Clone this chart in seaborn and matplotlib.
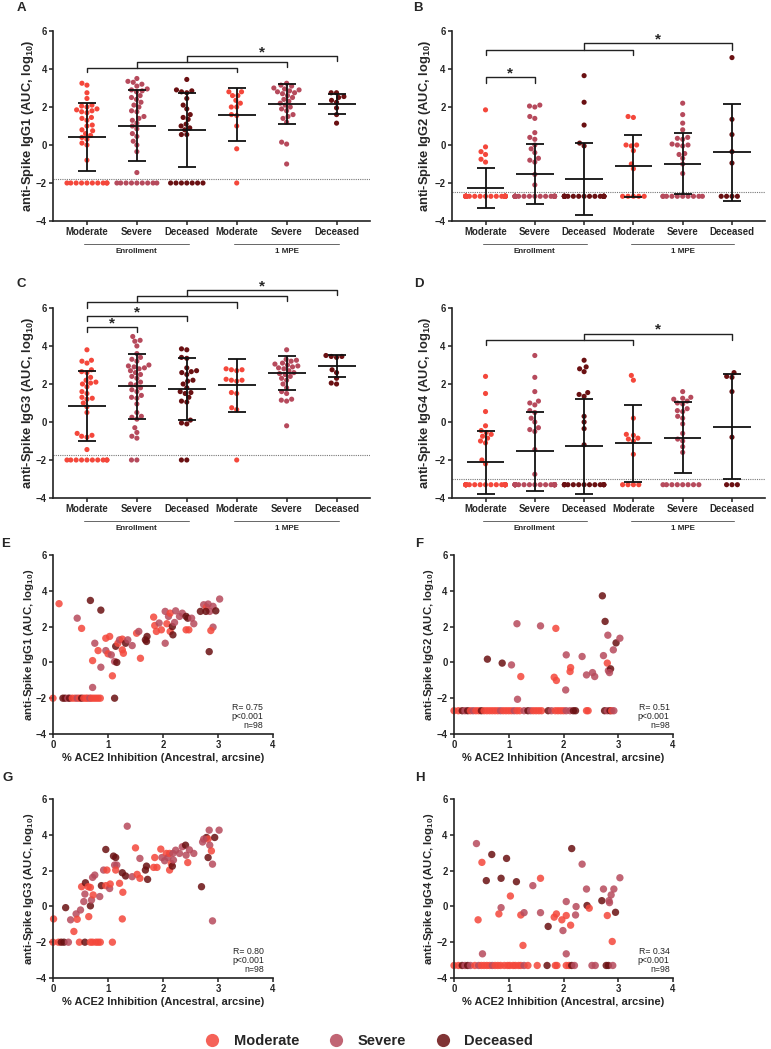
import numpy as np
import pandas as pd
import seaborn as sns
import matplotlib.pyplot as plt
from matplotlib.lines import Line2D

sns.set_style("ticks")
plt.rcParams['font.family'] = ['Liberation Sans', 'DejaVu Sans']
plt.rcParams['font.weight'] = 'bold'
plt.rcParams['axes.labelweight'] = 'bold'
plt.rcParams['mathtext.fontset'] = 'custom'
plt.rcParams['mathtext.rm'] = 'Liberation Sans:bold'
plt.rcParams['mathtext.bf'] = 'Liberation Sans:bold'
plt.rcParams['mathtext.default'] = 'rm'

colors = {'Moderate': '#F4473B', 'Severe': '#B64A5C', 'Deceased': '#6A1012'}
code = {'M': 'Moderate', 'S': 'Severe', 'D': 'Deceased'}
groups = ['Moderate E', 'Severe E', 'Deceased E', 'Moderate M', 'Severe M', 'Deceased M']
tick_names = ['Moderate', 'Severe', 'Deceased', 'Moderate', 'Severe', 'Deceased']

# ---- column scatter data (enrollment x3, 1 MPE x3) ----
igg1 = [
    [3.25, 3.15, 2.75, 2.45, 2.1, 2.05, 2.0, 1.9, 1.85, 1.8, 1.75, 1.7, 1.45, 1.4, 1.3, 1.05, 1.0,
     0.8, 0.75, 0.6, 0.5, 0.4, 0.3, 0.1, 0.0, -0.8] + [-2.0] * 10,
    [3.5, 3.35, 3.3, 3.2, 3.1, 2.95, 2.9, 2.85, 2.8, 2.6, 2.5, 2.4, 2.25, 2.1, 2.0, 1.8, 1.75, 1.5,
     1.4, 1.3, 1.15, 1.0, 0.85, 0.6, 0.45, 0.2, 0.0, -0.35, -1.45] + [-2.0] * 9,
    [3.45, 2.9, 2.85, 2.8, 2.75, 2.45, 2.1, 1.9, 1.6, 1.45, 1.35, 1.1, 1.0, 0.9, 0.8, 0.55, 0.55] + [-2.0] * 7,
    [2.8, 2.8, 2.6, 2.6, 2.35, 2.2, 2.0, 2.0, 1.6, 1.55, 1.0, -0.2, -2.0],
    [3.25, 3.15, 3.1, 3.0, 2.95, 2.9, 2.85, 2.8, 2.75, 2.7, 2.6, 2.5, 2.4, 2.3, 2.2, 2.1, 2.0, 1.9,
     1.8, 1.6, 1.5, 1.4, 1.2, 0.15, 0.05, -1.0],
    [2.75, 2.75, 2.55, 2.5, 2.35, 2.25, 1.95, 1.6, 1.15],
]
igg1_mean = [0.42, 1.02, 0.80, 1.60, 2.15, 2.17]
igg1_sd = [1.80, 1.88, 1.95, 1.38, 1.05, 0.52]
igg1_lod = -1.78

igg2 = [
    [1.85, -0.1, -0.35, -0.5, -0.75, -0.9] + [-2.7] * 30,
    [2.1, 2.05, 2.0, 1.5, 1.4, 0.65, 0.4, 0.3, 0.0, -0.2, -0.4, -0.7, -0.8, -0.9, -1.55, -2.1] + [-2.7] * 22,
    [3.65, 2.25, 1.05, 0.1, -0.05] + [-2.7] * 19,
    [1.5, 1.45, 0.0, 0.0, -0.05, -0.3, -1.0, -1.25] + [-2.7] * 5,
    [2.2, 1.6, 1.15, 0.8, 0.4, 0.35, 0.3, 0.05, 0.0, 0.0, -0.05, -0.45, -0.5, -0.7, -1.0, -1.5] + [-2.7] * 10,
    [4.6, 1.35, 0.55, -0.35, -0.95] + [-2.7] * 4,
]
igg2_mean = [-2.25, -1.52, -1.78, -1.12, -0.98, -0.38]
igg2_sd = [1.05, 1.57, 1.90, 1.63, 1.60, 2.55]
igg2_lod = -2.45

igg3 = [
    [3.8, 3.25, 3.2, 3.1, 2.75, 2.65, 2.6, 2.35, 2.2, 2.1, 2.05, 2.0, 1.85, 1.6, 1.5, 1.3, 1.25, 1.2,
     1.0, 0.8, 0.5, -0.6, -0.7, -0.75, -0.8, -1.45] + [-2.0] * 10,
    [4.5, 4.3, 4.25, 4.0, 3.6, 3.4, 3.3, 3.2, 3.0, 2.95, 2.9, 2.85, 2.8, 2.7, 2.6, 2.5, 2.4, 2.3, 2.1,
     2.0, 1.95, 1.8, 1.7, 1.6, 1.4, 1.3, 1.25, 0.95, 0.5, 0.3, 0.25, 0.15, -0.3, -0.55, -0.75, -0.85] + [-2.0] * 2,
    [3.85, 3.8, 3.4, 3.35, 2.85, 2.7, 2.65, 2.6, 2.5, 2.2, 2.15, 2.0, 1.8, 1.6, 1.55, 1.5, 1.3, 1.1,
     1.05, 0.1, -0.05, -0.1] + [-2.0] * 2,
    [2.8, 2.75, 2.75, 2.7, 2.25, 2.2, 2.2, 2.15, 1.55, 1.5, 0.75, 0.65, -2.0],
    [3.8, 3.3, 3.25, 3.2, 3.1, 3.05, 3.0, 2.95, 2.9, 2.85, 2.8, 2.7, 2.6, 2.55, 2.5, 2.4, 2.3, 2.2,
     2.0, 1.8, 1.6, 1.5, 1.2, 1.15, 1.1, -0.2],
    [3.45, 3.45, 3.4, 3.5, 2.75, 2.6, 2.3, 2.05, 2.0],
]
igg3_mean = [0.85, 1.88, 1.75, 1.93, 2.58, 2.95]
igg3_sd = [1.86, 1.72, 1.63, 1.38, 0.90, 0.58]
igg3_lod = -1.73

igg4 = [
    [2.4, 1.5, 0.55, -0.2, -0.45, -0.55, -0.65, -0.75, -0.85, -1.0, -1.1, -2.0, -2.2] + [-3.3] * 23,
    [3.5, 2.35, 1.6, 1.1, 1.0, 0.9, 0.6, 0.5, 0.2, 0.0, -0.3, -0.4, -0.5, -1.45, -2.75] + [-3.3] * 23,
    [3.25, 2.9, 2.8, 2.65, 1.55, 1.45, 1.35, 0.3, 0.0, -0.35, -1.2] + [-3.3] * 13,
    [2.45, 2.2, 0.2, -0.65, -0.7, -0.85, -0.9, -1.0, -1.7] + [-3.3] * 4,
    [1.6, 1.3, 1.25, 1.2, 1.1, 1.0, 0.95, 0.7, 0.6, 0.55, 0.3, 0.2, -0.1, -0.6, -0.9, -1.0, -1.3,
     -1.6] + [-3.3] * 8,
    [2.6, 2.4, 2.35, 1.6, -0.8] + [-3.3] * 3,
]
igg4_mean = [-2.13, -1.54, -1.27, -1.11, -0.82, -0.24]
igg4_sd = [1.64, 2.07, 2.50, 2.03, 1.86, 2.78]
igg4_lod = -3.0

# brackets: (from, to, height, left foot, right foot, star)
brackets_a = [(0, 3, 4.07, 3.82, 3.82, False), (1, 4, 4.38, 4.07, 4.12, False),
              (2, 5, 4.68, 4.38, 4.42, True)]
brackets_b = [(0, 3, 5.0, 4.72, 4.72, False), (2, 5, 5.35, 5.0, 5.0, True),
              (0, 1, 3.56, 3.28, 3.28, True)]
brackets_c = [(0, 1, 5.0, 4.74, 4.74, True), (0, 2, 5.58, 5.32, 5.32, True),
              (0, 3, 6.31, 6.02, 6.02, False), (1, 4, 6.61, 6.31, 6.35, False),
              (2, 5, 6.93, 6.61, 6.67, True)]
brackets_d = [(0, 3, 4.34, 4.05, 4.05, False), (2, 5, 4.64, 4.34, 4.30, True)]

# ---- correlation data (ACE2 inhibition vs IgG) ----
e_ace2 = [0.11, 0.44, 0.52, 0.68, 0.87, 0.76, 0.82, 0.72, 0.87, 0.72,
          0.96, 1.03, 0.96, 1.00, 1.06, 1.08, 1.12, 1.16, 1.14, 1.18,
          1.12, 1.21, 1.26, 1.26, 1.28, 1.32, 1.36, 1.44, 1.52, 1.56,
          1.59, 1.68, 1.71, 1.70, 1.83, 1.85, 1.88, 1.93, 1.97, 2.04,
          2.04, 2.07, 2.10, 2.13, 2.13, 2.17, 2.18, 2.21, 2.23, 2.30,
          2.35, 2.42, 2.45, 2.42, 2.47, 2.52, 2.56, 2.68, 2.74, 2.79,
          2.82, 2.85, 2.78, 2.91, 2.96, 3.03, 2.91, 2.87, 2.84,
          0.0, 0.18, 0.22, 0.27, 0.30, 0.35, 0.40, 0.44, 0.48, 0.52,
          0.56, 0.60, 0.63, 0.67, 0.70, 0.74, 0.78, 0.82, 0.86]
e_igg1 = [3.28, 2.47, 1.90, 3.46, 2.92, 1.07, 0.66, 0.10, -0.27, -1.40,
          1.35, 1.45, 0.66, 0.48, 0.42, -0.75, 0.05, 0.00, 0.90, 1.07,
          -2.00, 1.26, 1.30, 0.70, 0.51, 1.07, 1.26, 0.94, 1.63, 1.73,
          0.23, 1.26, 1.45, 1.17, 2.53, 2.06, 1.73, 2.20, 1.82, 1.07,
          2.85, 2.16, 2.57, 2.75, 1.73, 2.00, 1.54, 2.23, 2.88, 2.57,
          2.75, 2.57, 2.47, 1.82, 1.82, 2.47, 2.16, 2.85, 3.22, 3.09,
          3.26, 2.85, 2.85, 3.13, 2.88, 3.54, 1.97, 1.78, 0.60] + [-2.0] * 19
e_sev = "MSMDDSMMSSMMSMSMSDDMDSMMMDSSMSMDDDMMMSMSSMSMMDDSSSSDDMMSSDSMSSDSDSSMD" + "MDDSDMMSMDMMMSMMMMM"

f_ace2 = [0.61, 0.88, 1.05, 1.22, 1.15, 1.16, 1.58, 1.86, 1.83, 1.87,
          2.05, 2.04, 2.13, 2.12, 2.34, 2.42, 2.53, 2.57, 2.71, 2.76,
          2.81, 2.73, 2.80, 2.82, 2.86, 2.84, 2.91, 2.96, 3.03,
          0.0, 0.08, 0.15, 0.2, 0.25, 0.3, 0.35, 0.4, 0.45, 0.5,
          0.55, 0.6, 0.65, 0.7, 0.75, 0.8, 0.85, 0.9, 0.95, 1.0,
          1.05, 1.1, 1.15, 1.2, 1.28, 1.35, 1.4, 1.45, 1.5, 1.55,
          1.6, 1.72, 1.78, 1.85, 1.9, 1.95, 2.0, 2.05, 2.12, 2.18,
          2.22, 2.42, 2.45, 2.75, 2.8, 2.85, 2.88, 2.92]
f_igg2 = [0.18, -0.04, -0.14, -0.79, 2.16, -2.06, 2.04, 1.90, -0.83, -1.01,
          0.42, -1.54, -0.29, -0.51, 0.33, -0.70, -0.57, -0.79, 3.72, 2.29,
          1.52, 0.38, -0.04, -0.46, -0.36, -0.57, 0.70, 1.09, 1.35] + [-2.7] * 48
f_sev = "DDSMSSSMMMSSMMSSSSDDSSMSDSSDS" + "MMDSDMSMMDMMMMMMSMMMMSMMSDSMMMMDSMMMMSSDDMMDSDMS"

g_ace2 = [0.01, 0.23, 0.32, 0.38, 0.42, 0.44, 0.50, 0.52, 0.56, 0.58,
          0.59, 0.64, 0.65, 0.68, 0.68, 0.70, 0.72, 0.73, 0.76, 0.85,
          0.88, 0.92, 0.96, 0.98, 0.96, 1.03, 1.04, 1.10, 1.14, 1.12,
          1.16, 1.14, 1.21, 1.26, 1.27, 1.26, 1.32, 1.35, 1.44, 1.50,
          1.53, 1.58, 1.58, 1.70, 1.68, 1.72, 1.83, 1.85, 1.89, 1.96,
          1.98, 2.03, 2.06, 2.09, 2.12, 2.12, 2.15, 2.17, 2.19, 2.18,
          2.23, 2.30, 2.35, 2.41, 2.42, 2.45, 2.48, 2.56, 2.70, 2.72,
          2.79, 2.82, 2.84, 2.85, 2.82, 2.88, 2.90, 2.90, 2.94, 3.02, 2.74,
          0.0, 0.1, 0.15, 0.2, 0.28, 0.48, 0.58, 0.68, 0.72, 0.78, 0.82, 0.86, 1.08]
g_igg3 = [-0.70, -0.07, -0.75, -1.40, -0.42, -0.72, -0.20, 1.10, 0.27, 0.69,
          1.32, 1.10, -0.57, 1.06, 0.03, 0.36, 1.62, 0.64, 1.75, 0.55,
          1.16, 2.03, 3.18, 2.03, 1.16, 1.00, 1.25, 2.81, 2.73, 2.31,
          2.31, 2.03, 1.29, 1.88, 0.79, -0.70, 1.70, 4.48, 1.66, 3.27,
          1.79, 1.57, 2.68, 2.25, 2.03, 1.51, 2.18, 2.73, 2.18, 3.20,
          2.73, 2.55, 2.96, 2.73, 2.96, 2.03, 2.40, 2.25, 2.59, 2.96,
          3.14, 2.96, 3.33, 3.42, 2.86, 2.45, 3.16, 2.96, 1.10, 3.60,
          3.85, 3.76, 4.26, 3.42, 2.73, 3.10, 2.36, -0.81, 3.85, 4.26, 3.76] + [-2.0] * 13
g_sev = ("MDSMSMSMSSDMMMDSSMSSDSDMMSMDDSSMMDMMDSSMMMSDDDMMMMSSMSMMMDSSSSSDSMSSDSDMSSDMSSDSS"
         + "MMDDSMDMMMMMM")

h_ace2 = [0.41, 0.51, 0.69, 0.59, 0.44, 0.52, 0.96, 0.86, 0.86, 0.82,
          1.03, 1.14, 1.22, 1.28, 1.26, 1.44, 1.58, 1.58, 1.72, 1.83,
          1.87, 1.97, 1.99, 2.05, 2.05, 2.05, 2.13, 2.15, 2.22, 2.23,
          2.34, 2.42, 2.43, 2.47, 2.70, 2.73, 2.80, 2.83, 2.84, 2.87,
          2.92, 2.89, 2.95, 3.03,
          0.0, 0.08, 0.15, 0.2, 0.25, 0.3, 0.38, 0.45, 0.5, 0.55,
          0.6, 0.65, 0.7, 0.75, 0.8, 0.85, 0.92, 0.98, 1.02, 1.08,
          1.12, 1.18, 1.22, 1.28, 1.35, 1.52, 1.7, 1.85, 1.88, 2.05,
          2.1, 2.15, 2.2, 2.52, 2.58, 2.78, 2.82, 2.9]
h_igg4 = [3.51, 2.46, 2.90, 1.44, -0.75, -2.65, 2.68, 1.57, -0.07, -0.42,
          0.58, 1.38, -0.48, -0.35, -2.18, 1.16, 1.57, -0.35, -1.12, -0.60,
          -0.42, -0.75, -1.35, 0.27, -0.51, -2.65, -1.05, 3.23, -0.48, -0.01,
          2.36, 0.97, 0.05, -0.10, 0.32, 0.97, -0.51, 0.32, 0.21, 0.64,
          0.97, -1.96, -0.33, 1.60] + [-3.3] * 38
h_sev = "SMDDMSDDSMMDMSMSMSDMMMSSMSMDSSSSDMDSMSSSSMDS" + "MMDSDSMSMMMMSMMMMMMMMMMSMMDMMMMDSSSDDS"

stats = ['R= 0.75\np<0.001\nn=98', 'R= 0.51\np<0.001\nn=98',
         'R= 0.80\np<0.001\nn=98', 'R= 0.34\np<0.001\nn=98']


def ylab(n):
    return 'anti-Spike IgG%d (AUC, log$_{10}$)' % n


def style_axis(ax):
    sns.despine(ax=ax)
    for s in ['left', 'bottom']:
        ax.spines[s].set_linewidth(1.2)
        ax.spines[s].set_color('#222222')
    ax.tick_params(direction='out', length=3, width=1.1, pad=1.5, color='#222222')
    ax.set_ylim(-4, 6)
    ax.set_yticks([-4, -2, 0, 2, 4, 6])


def column_panel(ax, vals, means, sds, lod, brackets, n, lx):
    df = pd.DataFrame({'group': np.repeat(groups, [len(v) for v in vals]),
                       'value': np.concatenate(vals)})
    df['severity'] = df['group'].str.split().str[0]
    sns.swarmplot(data=df, x='group', y='value', hue='severity', order=groups,
                  palette=colors, size=3.7, ax=ax, legend=False, warn_thresh=1, zorder=2)
    x = np.arange(len(groups))
    ax.errorbar(x, means, yerr=sds, fmt='none', ecolor='#111111', elinewidth=1.3,
                capsize=6.5, capthick=1.3, zorder=4)
    ax.hlines(means, x - 0.38, x + 0.38, color='#111111', lw=1.3, zorder=4)
    ax.axhline(lod, ls=(0, (1, 1)), color='#777777', lw=0.8, zorder=1)
    for i, j, h, yl, yr, star in brackets:
        ax.plot([i, i, j, j], [yl, h, h, yr], color='#222222', lw=1.0, clip_on=False)
        if star:
            ax.text((i + j) / 2, h, '*', ha='center', va='baseline', fontsize=11,
                    clip_on=False)
    style_axis(ax)
    ax.set_xlim(-0.68, 5.67)
    ax.set_xticks(x)
    ax.set_xticklabels(tick_names, fontsize=6.9)
    ax.tick_params(axis='y', labelsize=6.9)
    ax.set_xlabel('')
    ax.set_ylabel(ylab(n), fontsize=9.3)
    ax.yaxis.set_label_coords(lx, 0.5)
    tr = ax.get_xaxis_transform()
    for c, lab in [(1, 'Enrollment'), (4, '1 MPE')]:
        ax.plot([c - 1.05, c + 1.05], [-0.121, -0.121], color='#666666', lw=0.7,
                transform=tr, clip_on=False)
        ax.text(c, -0.158, lab, ha='center', va='center', fontsize=5.8, transform=tr)


def corr_panel(ax, xs, ys, sev, n, txt, tx, lx):
    df = pd.DataFrame({'ace2': xs, 'igg': ys, 'severity': [code[c] for c in sev]})
    sns.scatterplot(data=df, x='ace2', y='igg', hue='severity', palette=colors, s=28,
                    alpha=0.85, linewidth=0, legend=False, ax=ax, clip_on=False)
    style_axis(ax)
    ax.set_xlim(0, 4)
    ax.set_xticks([0, 1, 2, 3, 4])
    ax.tick_params(labelsize=6.9)
    ax.set_xlabel('% ACE2 Inhibition (Ancestral, arcsine)', fontsize=8, labelpad=2)
    ax.set_ylabel(ylab(n), fontsize=8.2)
    ax.yaxis.set_label_coords(lx, 0.5)
    ax.text(tx, 0.02, txt, transform=ax.transAxes, ha='right', va='bottom',
            multialignment='right', fontsize=6.3, fontweight='normal', linespacing=1.0)


W, H = 771, 1049
fig = plt.figure(figsize=(W / 100, H / 100), dpi=100)


def box(l, r, t, b):
    return [l / W, 1 - b / H, (r - l) / W, (b - t) / H]


ax_a = fig.add_axes(box(53, 370, 31, 221))
ax_b = fig.add_axes(box(452, 765, 31, 221))
ax_c = fig.add_axes(box(53, 370, 308, 498))
ax_d = fig.add_axes(box(452, 765, 308, 498))
ax_e = fig.add_axes(box(53, 273, 555, 734))
ax_f = fig.add_axes(box(454, 673, 555, 734))
ax_g = fig.add_axes(box(53, 273, 799, 978))
ax_h = fig.add_axes(box(454, 673, 799, 978))

column_panel(ax_a, igg1, igg1_mean, igg1_sd, igg1_lod, brackets_a, 1, -0.055)
column_panel(ax_b, igg2, igg2_mean, igg2_sd, igg2_lod, brackets_b, 2, -0.062)
column_panel(ax_c, igg3, igg3_mean, igg3_sd, igg3_lod, brackets_c, 3, -0.055)
column_panel(ax_d, igg4, igg4_mean, igg4_sd, igg4_lod, brackets_d, 4, -0.062)
corr_panel(ax_e, e_ace2, e_igg1, e_sev, 1, stats[0], 0.955, -0.078)
corr_panel(ax_f, f_ace2, f_igg2, f_sev, 2, stats[1], 0.985, -0.08)
corr_panel(ax_g, g_ace2, g_igg3, g_sev, 3, stats[2], 0.96, -0.078)
corr_panel(ax_h, h_ace2, h_igg4, h_sev, 4, stats[3], 0.985, -0.08)

for lab, px, py in [('A', 21, 8), ('B', 418, 8), ('C', 21, 284), ('D', 419, 284),
                    ('E', 6, 544), ('F', 419, 544), ('G', 8, 778), ('H', 420, 778)]:
    fig.text(px / W, 1 - py / H, lab, ha='center', va='center', fontsize=9.5)

handles = [Line2D([], [], ls='none', marker='o', markersize=9.5, markeredgewidth=0,
                  color=colors[k], alpha=0.85) for k in colors]
fig.legend(handles, list(colors), loc='center', bbox_to_anchor=(0.474, 1 - 1041 / H),
           ncol=3, frameon=False, handletextpad=0.5, columnspacing=1.5,
           prop={'weight': 'bold', 'size': 10.5})

fig.savefig('out.png', dpi=100)
